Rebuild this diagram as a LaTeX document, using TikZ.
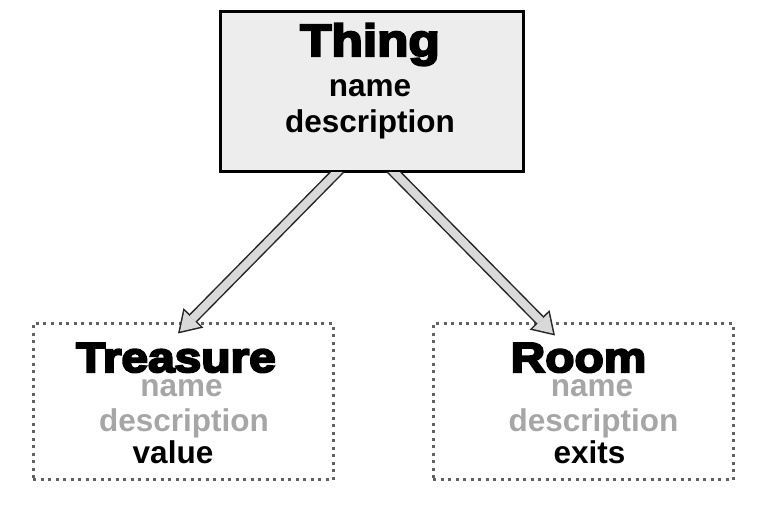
\documentclass[tikz,border=0pt]{standalone}
\usepackage{fontspec}
\setmainfont{Liberation Sans}
\newfontfamily\headfont{Liberation Sans}[FakeStretch=1.14, BoldFeatures={FakeBold=5}]
\usetikzlibrary{arrows.meta}

\tikzset{
  classbox/.style={draw, line width=3pt, fill=black!7, minimum width=303pt, minimum height=160pt},
  subbox/.style={draw=black!62, line width=3pt, dash pattern=on 3pt off 4.5pt, minimum width=300pt, minimum height=156pt},
  title/.style={anchor=base, inner sep=0pt, font=\headfont\bfseries\fontsize{42}{42}\selectfont},
  field/.style={anchor=base, inner sep=0pt, font=\bfseries\fontsize{31.5}{36}\selectfont},
  inherited/.style={field, text=black!35},
  hollow/.style={line width=8pt, draw=black!15, -{Triangle[length=17.7pt,width=22.5pt,line width=0pt]}, shorten >=2.8pt,
    preaction={draw=black!85, line width=11pt, -{Triangle[length=22pt,width=28pt,line width=0pt]}, shorten >=0pt}}
}

\begin{document}
\begin{tikzpicture}[x=1pt,y=-1pt]
  \useasboundingbox (0,0) rectangle (764,510);

  \node[classbox] (thing)    at (372,91.5) {};
  \node[subbox]   (treasure) at (183,402)  {};
  \node[subbox]   (room)     at (583,402)  {};

  % base class
  \node[title, font=\headfont\bfseries\fontsize{45}{45}\selectfont] (thingtitle) at (370,56) {Thing};
  \node[field] (thingname) at (370,97)  {name};
  \node[field] (thingdesc) at (370,133) {description};

  % subclasses
  \node[title]     (treasuretitle) at (176,372)   {Treasure};
  \node[inherited] (treasurename)  at (181.5,397) {name};
  \node[inherited] (treasuredesc)  at (184,432)   {description};
  \node[field]     (treasurevalue) at (173,464)   {value};

  \node[title]     (roomtitle) at (578.5,372) {Room};
  \node[inherited] (roomname)  at (592,397)   {name};
  \node[inherited] (roomdesc)  at (593.5,432) {description};
  \node[field]     (roomexits) at (589.5,464) {exits};

  % inheritance arrows
  \begin{scope}
    \clip (0,173) rectangle (764,510);
    \draw[hollow] ([xshift=-28pt,yshift=8pt]thing.south) -- ([xshift=-5pt,yshift=-11pt]treasure.north);
    \draw[hollow] ([xshift=15pt,yshift=8pt]thing.south) -- ([xshift=-28pt,yshift=-13pt]room.north);
  \end{scope}
\end{tikzpicture}
\end{document}
